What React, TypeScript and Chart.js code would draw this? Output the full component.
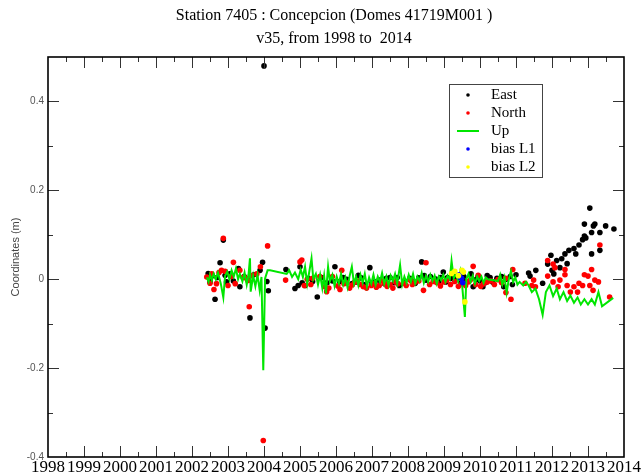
import React, { useEffect, useRef } from "react";
import { Chart, registerables } from "chart.js";

Chart.register(...registerables);

const TITLE = "Station 7405 : Concepcion (Domes 41719M001 )";
const SUBTITLE = "v35, from 1998 to  2014";
const Y_TITLE = "Coordinates (m)";

const X_MIN = 1998;
const X_MAX = 2014;
const X_MINOR_STEP = 0.5;
const Y_MIN = -0.4;
const Y_MAX = 0.5;
const Y_MAJOR_STEP = 0.2;
const Y_MINOR_STEP = 0.1;

// [decimal year, metres]
const EAST: [number, number][] = [
  [2002.45, 0.013], [2002.5, -0.006], [2002.56, 0.008], [2002.64, -0.045], [2002.7, 0.004],
  [2002.78, 0.037], [2002.87, 0.088], [2002.92, 0.009], [2002.96, -0.006], [2003.05, 0.012],
  [2003.15, -0.004], [2003.29, 0.024], [2003.33, -0.017], [2003.45, 0.006], [2003.56, -0.002],
  [2003.61, -0.087], [2003.72, 0.01], [2003.89, 0.02], [2003.96, 0.038], [2004.0, 0.48],
  [2004.03, -0.11], [2004.08, -0.005], [2004.12, -0.026], [2004.61, 0.022], [2004.86, -0.021],
  [2004.95, -0.014], [2005.0, 0.028], [2005.06, -0.008], [2005.14, -0.014], [2005.23, 0.002],
  [2005.35, -0.005], [2005.48, -0.04], [2005.6, 0.004], [2005.75, -0.008], [2005.97, 0.028],
  [2006.1, -0.005], [2006.3, 0.0], [2006.45, -0.01], [2006.62, 0.009], [2006.78, -0.012],
  [2006.94, 0.026], [2007.08, -0.006], [2007.2, -0.002], [2007.35, -0.01], [2007.5, 0.004],
  [2007.62, -0.008], [2007.76, -0.014], [2007.9, -0.004], [2008.05, 0.002], [2008.2, -0.009],
  [2008.38, 0.039], [2008.5, -0.002], [2008.62, 0.006], [2008.75, 0.001], [2008.85, -0.007],
  [2008.98, 0.016], [2009.1, 0.004], [2009.2, 0.002], [2009.35, 0.002], [2009.47, -0.008],
  [2009.6, -0.005], [2009.75, 0.012], [2009.81, -0.017], [2009.9, 0.0], [2010.0, -0.004],
  [2010.08, -0.017], [2010.2, 0.008], [2010.35, -0.006], [2010.47, 0.002], [2010.66, -0.017],
  [2010.72, 0.0], [2010.84, 0.006], [2010.9, -0.012], [2011.0, 0.01], [2011.35, 0.014],
  [2011.39, 0.007], [2011.55, 0.02], [2011.74, -0.009], [2011.88, 0.034], [2011.97, 0.054],
  [2012.05, 0.012], [2012.13, 0.042], [2012.22, 0.026], [2012.27, 0.046], [2012.36, 0.057],
  [2012.47, 0.065], [2012.61, 0.069], [2012.66, 0.057], [2012.75, 0.077], [2012.85, 0.089],
  [2012.9, 0.097], [2012.94, 0.093], [2012.9, 0.124], [2013.05, 0.16], [2013.1, 0.105],
  [2013.15, 0.12], [2013.1, 0.057], [2013.19, 0.124], [2013.33, 0.065], [2013.33, 0.105],
  [2013.49, 0.12], [2013.72, 0.113],
  [2005.9, -0.004], [2006.2, 0.004], [2006.55, -0.006], [2006.7, 0.003], [2007.0, -0.008],
  [2007.4, 0.002], [2007.7, 0.004], [2008.1, -0.004], [2008.3, 0.003], [2008.45, 0.008],
  [2008.9, 0.004], [2009.05, -0.006], [2009.28, 0.008], [2009.55, 0.006], [2009.95, 0.006],
  [2010.15, -0.008], [2010.28, 0.004], [2010.6, 0.006], [2012.0, 0.02], [2012.42, 0.035],
];

const NORTH: [number, number][] = [
  [2002.41, 0.005], [2002.5, -0.009], [2002.55, 0.012], [2002.61, -0.023], [2002.68, -0.01],
  [2002.75, 0.015], [2002.82, 0.02], [2002.87, 0.092], [2002.92, 0.018], [2003.0, -0.014],
  [2003.08, 0.006], [2003.15, 0.038], [2003.2, -0.01], [2003.33, 0.02], [2003.42, 0.004],
  [2003.51, 0.002], [2003.55, -0.003], [2003.59, -0.062], [2003.65, 0.008], [2003.8, 0.012],
  [2003.9, 0.028], [2003.98, -0.363], [2004.1, 0.075], [2004.6, -0.002], [2005.0, 0.039],
  [2005.05, 0.043], [2005.12, -0.014], [2005.2, 0.0], [2005.35, 0.002], [2005.55, 0.006],
  [2005.69, -0.017], [2005.74, -0.028], [2005.9, 0.006], [2006.11, -0.023], [2006.16, 0.02],
  [2006.3, -0.008], [2006.45, -0.013], [2006.6, -0.004], [2006.76, -0.017], [2006.98, -0.014],
  [2007.2, -0.014], [2007.35, -0.009], [2007.5, -0.012], [2007.65, -0.006], [2007.87, -0.009],
  [2008.06, -0.002], [2008.2, -0.006], [2008.43, -0.025], [2008.5, 0.037], [2008.7, -0.005],
  [2008.8, -0.008], [2009.08, -0.002], [2009.3, -0.005], [2009.5, -0.01], [2009.67, -0.006],
  [2009.73, -0.002], [2009.81, 0.029], [2009.95, 0.009], [2010.1, -0.01], [2010.3, -0.004],
  [2010.5, -0.001], [2010.71, 0.002], [2010.72, -0.03], [2010.86, -0.045], [2010.91, 0.022],
  [2011.25, -0.009], [2011.44, -0.014], [2011.49, -0.002], [2011.54, -0.017], [2011.88, 0.007],
  [2011.88, 0.042], [2012.03, -0.006], [2012.03, 0.034], [2012.08, 0.026], [2012.17, -0.017],
  [2012.22, -0.002], [2012.36, 0.01], [2012.36, 0.022], [2012.42, -0.014], [2012.51, -0.029],
  [2012.61, -0.017], [2012.71, -0.029], [2012.75, -0.009], [2012.85, -0.014], [2012.9, 0.01],
  [2013.0, 0.007], [2013.05, -0.014], [2013.1, 0.022], [2013.14, -0.025], [2013.19, -0.002],
  [2013.29, -0.006], [2013.33, 0.077], [2013.6, -0.04],
  [2005.3, -0.012], [2005.8, -0.02], [2006.05, -0.015], [2006.22, -0.01], [2006.38, -0.02],
  [2006.52, -0.006], [2006.68, -0.012], [2006.85, -0.02], [2007.05, -0.01], [2007.12, -0.018],
  [2007.28, -0.004], [2007.42, -0.016], [2007.58, -0.02], [2007.72, -0.01], [2007.95, -0.014],
  [2008.12, -0.012], [2008.3, -0.004], [2008.6, -0.012], [2008.9, -0.015], [2009.0, -0.006],
  [2009.18, -0.012], [2009.4, -0.016], [2009.6, -0.014], [2009.88, -0.012], [2010.02, -0.016],
  [2010.2, -0.006], [2010.4, -0.012], [2010.6, -0.008],
];

const UP: [number, number][] = [
  [2002.41, 0.004], [2002.46, -0.006], [2002.5, 0.01], [2002.55, -0.002], [2002.6, 0.012],
  [2002.66, 0.0], [2002.72, 0.015], [2002.8, -0.01], [2002.87, -0.041], [2002.92, 0.008],
  [2002.98, 0.017], [2003.04, 0.0], [2003.1, 0.02], [2003.16, 0.006], [2003.22, 0.024],
  [2003.28, 0.0], [2003.33, 0.012], [2003.4, -0.005], [2003.46, 0.015], [2003.52, -0.012],
  [2003.57, 0.01], [2003.61, 0.047], [2003.63, -0.028], [2003.7, 0.008], [2003.76, -0.016],
  [2003.82, 0.01], [2003.88, -0.025], [2003.93, 0.005], [2003.98, -0.205], [2004.03, 0.002],
  [2004.1, 0.02], [2004.17, 0.02], [2004.63, 0.012], [2004.7, 0.02], [2004.78, 0.005],
  [2004.86, 0.015], [2004.95, 0.0], [2005.02, 0.022], [2005.08, 0.005], [2005.14, 0.028],
  [2005.2, -0.01], [2005.26, 0.018], [2005.32, 0.047], [2005.37, 0.0], [2005.44, 0.012],
  [2005.5, -0.012], [2005.56, 0.01], [2005.62, -0.02], [2005.67, 0.008], [2005.72, -0.032],
  [2005.78, 0.028], [2005.83, -0.005], [2005.9, 0.01], [2005.96, -0.015], [2006.02, 0.006],
  [2006.08, -0.01], [2006.14, 0.012], [2006.2, -0.012], [2006.26, 0.004], [2006.32, -0.018],
  [2006.38, 0.008], [2006.44, 0.028], [2006.5, -0.01], [2006.56, 0.006], [2006.62, -0.014],
  [2006.68, 0.01], [2006.74, -0.008], [2006.8, 0.012], [2006.86, -0.016], [2006.92, 0.004],
  [2006.98, -0.01], [2007.04, 0.01], [2007.1, -0.012], [2007.16, 0.006], [2007.22, -0.006],
  [2007.28, 0.014], [2007.34, -0.01], [2007.4, 0.006], [2007.46, -0.014], [2007.52, 0.008],
  [2007.58, -0.004], [2007.64, 0.012], [2007.7, -0.01], [2007.78, 0.032], [2007.84, -0.012],
  [2007.9, 0.006], [2007.96, -0.008], [2008.02, 0.01], [2008.08, -0.006], [2008.14, 0.012],
  [2008.2, -0.01], [2008.26, 0.006], [2008.32, -0.004], [2008.38, 0.014], [2008.44, -0.008],
  [2008.5, 0.008], [2008.56, -0.006], [2008.62, 0.01], [2008.68, -0.004], [2008.74, 0.008],
  [2008.8, -0.01], [2008.86, 0.006], [2008.92, -0.002], [2008.98, 0.01], [2009.04, -0.006],
  [2009.1, 0.008], [2009.16, 0.0], [2009.21, 0.041], [2009.27, 0.002], [2009.33, 0.012],
  [2009.39, -0.004], [2009.45, 0.018], [2009.5, -0.01], [2009.58, -0.085], [2009.62, 0.0],
  [2009.68, 0.012], [2009.74, -0.006], [2009.8, 0.008], [2009.86, -0.01], [2009.92, 0.006],
  [2009.98, -0.004], [2010.04, 0.006], [2010.1, -0.008], [2010.16, 0.004], [2010.22, 0.0],
  [2010.5, -0.004], [2010.56, 0.01], [2010.62, -0.012], [2010.68, 0.004], [2010.74, -0.03],
  [2010.8, 0.0], [2010.86, 0.018], [2010.92, -0.006], [2010.98, 0.004], [2011.04, -0.012],
  [2011.1, -0.006], [2011.2, -0.014], [2011.28, -0.006], [2011.35, -0.014], [2011.44, -0.029],
  [2011.54, -0.021], [2011.64, -0.045], [2011.74, -0.08], [2011.83, -0.029], [2011.93, -0.014],
  [2012.03, -0.038], [2012.13, -0.021], [2012.22, -0.045], [2012.32, -0.029], [2012.42, -0.049],
  [2012.51, -0.037], [2012.61, -0.053], [2012.71, -0.041], [2012.8, -0.057], [2012.9, -0.045],
  [2013.0, -0.057], [2013.1, -0.045], [2013.19, -0.057], [2013.29, -0.029], [2013.39, -0.061],
  [2013.7, -0.042],
];

const BIAS_L1: [number, number][] = [
  [2009.42, 0.01], [2009.45, 0.004], [2009.49, 0.002], [2009.52, -0.008],
];

const BIAS_L2: [number, number][] = [
  [2009.21, 0.013], [2009.3, 0.018], [2009.4, 0.008], [2009.5, 0.02], [2009.54, 0.016], [2009.58, -0.051],
];

const SERIF = "'Liberation Serif', 'DejaVu Serif', serif";
const SANS = "'Liberation Sans', 'DejaVu Sans', sans-serif";

const toXY = (arr: [number, number][]) => arr.map(([x, y]) => ({ x, y }));

const titlePlugin = {
  id: "grTitles",
  afterDraw(chart: any) {
    const { ctx, chartArea: a } = chart;
    const cx = (a.left + a.right) / 2;
    ctx.save();
    ctx.fillStyle = "#000";
    ctx.textAlign = "center";
    ctx.textBaseline = "alphabetic";
    ctx.font = `16px ${SERIF}`;
    ctx.fillText(TITLE, cx - 2, 20);
    ctx.fillText(SUBTITLE, cx - 2, 43);
    ctx.restore();
  },
};

const framePlugin = {
  id: "grFrame",
  afterDatasetsDraw(chart: any) {
    const { ctx, chartArea: a, scales } = chart;
    const xs = scales.x;
    const ys = scales.y;
    ctx.save();
    ctx.strokeStyle = "#333";
    ctx.lineWidth = 1;
    ctx.beginPath();
    const nx = Math.round((X_MAX - X_MIN) / X_MINOR_STEP);
    for (let i = 1; i < nx; i++) {
      const t = X_MIN + i * X_MINOR_STEP;
      const px = Math.round(xs.getPixelForValue(t)) + 0.5;
      const len = i % 2 === 0 ? 11 : 5;
      ctx.moveTo(px, a.bottom);
      ctx.lineTo(px, a.bottom - len);
      ctx.moveTo(px, a.top);
      ctx.lineTo(px, a.top + len);
    }
    const ny = Math.round((Y_MAX - Y_MIN) / Y_MINOR_STEP);
    for (let i = 1; i < ny; i++) {
      const v = Y_MIN + i * Y_MINOR_STEP;
      const py = Math.round(ys.getPixelForValue(v)) + 0.5;
      const len = i % 2 === 0 ? 11 : 5;
      ctx.moveTo(a.left, py);
      ctx.lineTo(a.left + len, py);
      ctx.moveTo(a.right, py);
      ctx.lineTo(a.right - len, py);
    }
    ctx.stroke();
    ctx.strokeStyle = "#000";
    ctx.lineWidth = 1.6;
    ctx.strokeRect(a.left, a.top, a.right - a.left, a.bottom - a.top);
    ctx.restore();
  },
};

const legendPlugin = {
  id: "grLegend",
  afterDraw(chart: any) {
    const { ctx } = chart;
    const bx = 449, by = 84, bw = 93, bh = 93;
    ctx.save();
    ctx.fillStyle = "#fff";
    ctx.fillRect(bx, by, bw, bh);
    ctx.strokeStyle = "#444";
    ctx.lineWidth = 1;
    ctx.strokeRect(bx + 0.5, by + 0.5, bw, bh);
    ctx.font = `15px ${SERIF}`;
    ctx.textBaseline = "middle";
    ctx.textAlign = "left";
    const ds = chart.data.datasets.slice().sort((p: any, q: any) => p.legendIndex - q.legendIndex);
    ds.forEach((d: any, i: number) => {
      const y = by + 11 + i * 18;
      if (d.showLine) {
        ctx.strokeStyle = d.borderColor;
        ctx.lineWidth = 2;
        ctx.beginPath();
        ctx.moveTo(bx + 8, y);
        ctx.lineTo(bx + 30, y);
        ctx.stroke();
      } else {
        ctx.fillStyle = d.backgroundColor;
        ctx.beginPath();
        ctx.arc(bx + 19, y, 1.8, 0, Math.PI * 2);
        ctx.fill();
      }
      ctx.fillStyle = "#000";
      ctx.fillText(d.label, bx + 42, y);
    });
    ctx.restore();
  },
};

export default function App() {
  const ref = useRef<HTMLCanvasElement | null>(null);

  useEffect(() => {
    if (!ref.current) return;
    const dot = (label: string, color: string, data: [number, number][], order: number, legendIndex: number) => ({
      label,
      data: toXY(data),
      showLine: false,
      backgroundColor: color,
      borderColor: color,
      pointRadius: 2.8,
      pointBorderWidth: 0,
      pointHoverRadius: 2.8,
      order,
      legendIndex,
    });
    const chart = new Chart(ref.current, {
      type: "scatter",
      data: {
        datasets: [
          dot("East", "#000000", EAST, 5, 0),
          dot("North", "#ff0000", NORTH, 4, 1),
          {
            label: "Up",
            data: toXY(UP),
            showLine: true,
            borderColor: "#00e600",
            backgroundColor: "#00e600",
            borderWidth: 2,
            pointRadius: 0,
            pointHoverRadius: 0,
            tension: 0,
            order: 3,
            legendIndex: 2,
          } as any,
          dot("bias L1", "#0000ff", BIAS_L1, 2, 3),
          dot("bias L2", "#ffff00", BIAS_L2, 1, 4),
        ],
      },
      options: {
        animation: false,
        responsive: false,
        devicePixelRatio: 1,
        events: [],
        layout: { padding: { top: 57, right: 17, left: 0, bottom: 0 } },
        plugins: {
          legend: { display: false },
          tooltip: { enabled: false },
          title: { display: false },
        },
        scales: {
          x: {
            type: "linear",
            min: X_MIN,
            max: X_MAX,
            grid: { display: false, drawTicks: false },
            border: { display: false },
            ticks: {
              stepSize: 1,
              autoSkip: false,
              maxRotation: 0,
              padding: 0,
              color: "#000",
              font: { family: SERIF, size: 17 },
              callback: (v: any) => String(v),
            },
            afterFit: (s: any) => {
              s.height = 18;
              s.paddingLeft = 0;
              s.paddingRight = 0;
            },
          },
          y: {
            type: "linear",
            min: Y_MIN,
            max: Y_MAX,
            grid: { display: false, drawTicks: false },
            border: { display: false },
            title: {
              display: true,
              text: Y_TITLE,
              color: "#444",
              font: { family: SANS, size: 11 },
              padding: { top: 9, bottom: 0 },
            },
            ticks: {
              stepSize: Y_MAJOR_STEP,
              includeBounds: false,
              padding: 4,
              color: "#555",
              font: { family: SANS, size: 10 },
              callback: (v: any) => {
                const r = Math.round(Number(v) * 10) / 10;
                return Math.abs(r) < 1e-9 ? "0" : String(r);
              },
            },
            afterFit: (s: any) => {
              s.width = 48;
              s.paddingTop = 0;
              s.paddingBottom = 0;
            },
          },
        },
      } as any,
      plugins: [titlePlugin, framePlugin, legendPlugin],
    });
    return () => chart.destroy();
  }, []);

  return (
    <div style={{ position: "fixed", left: 0, top: 0, width: 641, height: 475, background: "#fff" }}>
      <canvas ref={ref} width={641} height={475} style={{ width: 641, height: 475, display: "block" }} />
    </div>
  );
}
